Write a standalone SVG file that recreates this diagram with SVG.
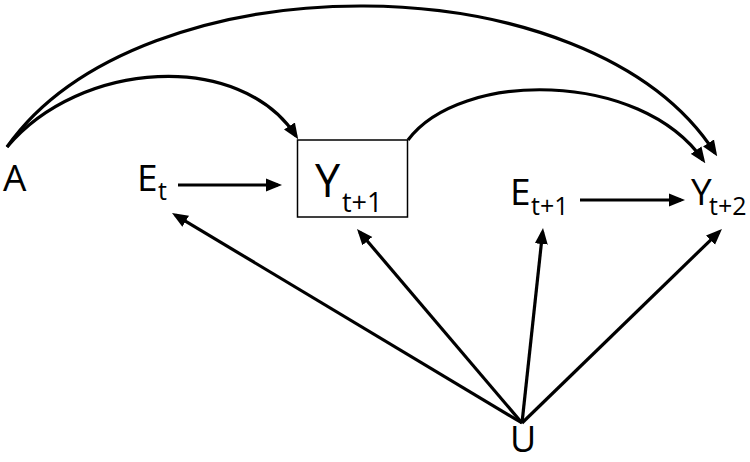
<svg xmlns="http://www.w3.org/2000/svg" width="750" height="462" viewBox="0 0 750 462">
<style>
.lbl{font-family:"Open Sans","Noto Sans","DejaVu Sans",sans-serif;fill:#000}
.big{font-size:37px}
.sub{font-size:25px}
.edge{fill:none;stroke:#000;stroke-width:3.2;marker-end:url(#ah)}
.box{fill:#fff;stroke:#000;stroke-width:1.5}
</style>
<defs>
<marker id="ah" markerUnits="userSpaceOnUse" markerWidth="16" markerHeight="14" viewBox="0 0 16 14" refX="12" refY="7" orient="auto">
<path d="M0,0.5 L16,7 L0,13.5 z" fill="#000"/>
</marker>
</defs>
<g id="node-Y1">
<rect class="box" x="297.5" y="140" width="110" height="77"/>
<text class="lbl" x="315" y="197" font-size="45">Y</text>
<text class="lbl" x="342" y="212" font-size="27">t+1</text>
</g>
<g id="connectors">
<path class="edge" d="M7,147 C140,-42 590,-42 715,153"/>
<path class="edge" d="M7,147 C80,60 240,50 296,136"/>
<path class="edge" d="M408,140 C460,70 640,70 703,160"/>
<path class="edge" d="M178,185 L278,185"/>
<path class="edge" d="M580,200 L681,200"/>
<path class="edge" d="M522,423 L175.4,215.1"/>
<path class="edge" d="M522,423 L359.6,232"/>
<path class="edge" d="M522,423 L542.6,232"/>
<path class="edge" d="M522,423 L719.1,231.8"/>
</g>
<g id="node-A">
<text class="lbl big" x="3" y="191">A</text>
</g>
<g id="node-Et">
<text class="lbl big" x="137" y="191">E</text>
<text class="lbl sub" x="158" y="200">t</text>
</g>
<g id="node-E1">
<text class="lbl big" x="510" y="205">E</text>
<text class="lbl sub" x="531" y="215">t+1</text>
</g>
<g id="node-Y2">
<text class="lbl big" x="691" y="205">Y</text>
<text class="lbl sub" x="709" y="215">t+2</text>
</g>
<g id="node-U">
<text class="lbl" x="510" y="452" font-size="36">U</text>
</g>
</svg>
